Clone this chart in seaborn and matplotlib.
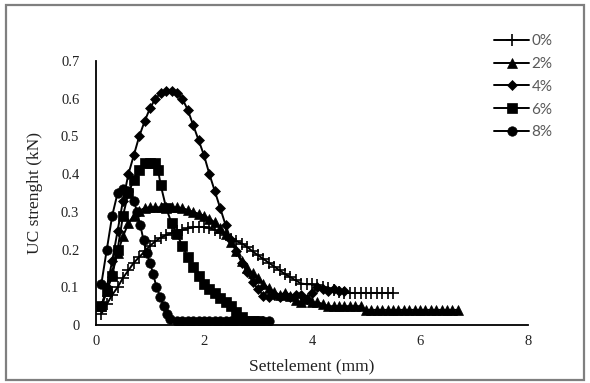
import matplotlib
matplotlib.use("Agg")
import matplotlib.pyplot as plt
from matplotlib.patches import Rectangle
import seaborn as sns
import pandas as pd

# ---------------- data ----------------
x_0 = [0.1, 0.2, 0.3, 0.4, 0.5, 0.6, 0.7, 0.8, 0.9, 1.0,
       1.1, 1.2, 1.3, 1.4, 1.5, 1.6, 1.7, 1.8, 1.9, 2.0,
       2.1, 2.2, 2.3, 2.4, 2.5, 2.6, 2.7, 2.8, 2.9, 3.0,
       3.1, 3.2, 3.3, 3.4, 3.5, 3.6, 3.7, 3.8, 3.9, 4.0,
       4.1, 4.2, 4.3, 4.4, 4.5, 4.6, 4.7, 4.8, 4.9, 5.0,
       5.1, 5.2, 5.3, 5.4, 5.5]
y_0 = [0.03, 0.055, 0.08, 0.1, 0.125, 0.145, 0.165, 0.18, 0.195, 0.21,
       0.222, 0.232, 0.238, 0.244, 0.25, 0.252, 0.256, 0.26, 0.26, 0.26,
       0.257, 0.252, 0.245, 0.238, 0.228, 0.222, 0.216, 0.207, 0.195, 0.185,
       0.175, 0.165, 0.155, 0.145, 0.135, 0.127, 0.118, 0.11, 0.108, 0.108,
       0.105, 0.1, 0.097, 0.093, 0.088, 0.085, 0.085, 0.085, 0.085, 0.085,
       0.085, 0.085, 0.085, 0.085, 0.085]

x_2 = [0.1, 0.2, 0.3, 0.4, 0.5, 0.6, 0.7, 0.8, 0.9, 1.0,
       1.1, 1.2, 1.3, 1.4, 1.5, 1.6, 1.7, 1.8, 1.9, 2.0,
       2.1, 2.2, 2.3, 2.4, 2.5, 2.6, 2.7, 2.8, 2.9, 3.0,
       3.1, 3.2, 3.3, 3.4, 3.5, 3.6, 3.7, 3.8, 3.9, 4.0,
       4.1, 4.2, 4.3, 4.4, 4.5, 4.6, 4.7, 4.8, 4.9, 5.0,
       5.1, 5.2, 5.3, 5.4, 5.5, 5.6, 5.7, 5.8, 5.9, 6.0,
       6.1, 6.2, 6.3, 6.4, 6.5, 6.6, 6.7]
y_2 = [0.05, 0.09, 0.14, 0.19, 0.235, 0.27, 0.29, 0.303, 0.31, 0.312,
       0.312, 0.312, 0.312, 0.312, 0.312, 0.31, 0.305, 0.3, 0.295, 0.29,
       0.282, 0.272, 0.258, 0.24, 0.22, 0.195, 0.17, 0.15, 0.137, 0.125,
       0.11, 0.097, 0.088, 0.08, 0.085, 0.078, 0.065, 0.06, 0.068, 0.06,
       0.06, 0.056, 0.05, 0.05, 0.05, 0.05, 0.05, 0.05, 0.05, 0.04,
       0.04, 0.04, 0.04, 0.04, 0.04, 0.04, 0.04, 0.04, 0.04, 0.04,
       0.04, 0.04, 0.04, 0.04, 0.04, 0.04, 0.04]

x_4 = [0.1, 0.2, 0.3, 0.4, 0.5, 0.6, 0.7, 0.8, 0.9, 1.0,
       1.1, 1.2, 1.3, 1.4, 1.5, 1.6, 1.7, 1.8, 1.9, 2.0,
       2.1, 2.2, 2.3, 2.4, 2.5, 2.6, 2.7, 2.8, 2.9, 3.0,
       3.1, 3.2, 3.3, 3.4, 3.5, 3.6, 3.7, 3.8, 3.9, 4.0,
       4.1, 4.2, 4.3, 4.4, 4.5, 4.6]
y_4 = [0.05, 0.1, 0.17, 0.25, 0.33, 0.4, 0.45, 0.5, 0.54, 0.575,
       0.6, 0.615, 0.62, 0.62, 0.615, 0.6, 0.57, 0.53, 0.49, 0.45,
       0.4, 0.355, 0.31, 0.265, 0.225, 0.195, 0.165, 0.14, 0.115, 0.095,
       0.078, 0.075, 0.08, 0.075, 0.08, 0.074, 0.08, 0.08, 0.07, 0.085,
       0.1, 0.095, 0.09, 0.095, 0.09, 0.09]

x_6 = [0.1, 0.2, 0.3, 0.4, 0.5, 0.6, 0.7, 0.8, 0.9, 1.0,
       1.1, 1.15, 1.2, 1.3, 1.4, 1.5, 1.6, 1.7, 1.8, 1.9,
       2.0, 2.1, 2.2, 2.3, 2.4, 2.5, 2.6, 2.7, 2.8, 2.9, 3.0]
y_6 = [0.05, 0.09, 0.13, 0.2, 0.29, 0.35, 0.385, 0.41, 0.43, 0.43,
       0.43, 0.41, 0.37, 0.31, 0.27, 0.24, 0.21, 0.18, 0.155, 0.13,
       0.11, 0.095, 0.085, 0.072, 0.06, 0.05, 0.035, 0.02, 0.01, 0.01, 0.01]

x_8 = [0.1, 0.2, 0.3, 0.4, 0.5, 0.6, 0.7, 0.76, 0.82, 0.88,
       0.94, 1.0, 1.06, 1.12, 1.19, 1.25, 1.31, 1.37, 1.5, 1.6,
       1.7, 1.8, 1.9, 2.0, 2.1, 2.2, 2.3, 2.4, 2.5, 2.6,
       2.7, 2.8, 2.9, 3.0, 3.1, 3.2]
y_8 = [0.11, 0.2, 0.29, 0.35, 0.36, 0.355, 0.33, 0.3, 0.265, 0.225,
       0.19, 0.165, 0.135, 0.1, 0.075, 0.05, 0.03, 0.015, 0.01, 0.01,
       0.01, 0.01, 0.01, 0.01, 0.01, 0.01, 0.01, 0.01, 0.01, 0.01,
       0.01, 0.01, 0.01, 0.01, 0.01, 0.01]

series_labels = ["0%", "2%", "4%", "6%", "8%"]
x_ticks = [0, 2, 4, 6, 8]
y_ticks = [0, 0.1, 0.2, 0.3, 0.4, 0.5, 0.6, 0.7]
y_tick_labels = ["0", "0.1", "0.2", "0.3", "0.4", "0.5", "0.6", "0.7"]
x_label = "Settelement (mm)"
y_label = "UC strenght (kN)"

# ---------------- plot ----------------
sns.set_style("white")
plt.rcParams["font.family"] = ["Liberation Serif", "DejaVu Serif"]

fig = plt.figure(figsize=(5.9, 3.83), dpi=100)
ax = fig.add_axes([96 / 590, 58 / 383, 432 / 590, 264 / 383])

styles = [
    dict(marker="+", markersize=8, markeredgewidth=1.2),
    dict(marker="^", markersize=6.5, markeredgewidth=0.5),
    dict(marker="D", markersize=5.0, markeredgewidth=0.5),
    dict(marker="s", markersize=6.8, markeredgewidth=0.5),
    dict(marker="o", markersize=6.8, markeredgewidth=0.5),
]
all_x = [x_0, x_2, x_4, x_6, x_8]
all_y = [y_0, y_2, y_4, y_6, y_8]

for xs, ys, lab, st in zip(all_x, all_y, series_labels, styles):
    df = pd.DataFrame({"x": xs, "y": ys})
    sns.lineplot(data=df, x="x", y="y", ax=ax, color="black", linewidth=1.4,
                 sort=False, estimator=None, label=lab,
                 markeredgecolor="black", markerfacecolor="black", **st)

ax.set_xlim(0, 8)
ax.set_ylim(0, 0.7)
ax.set_xticks(x_ticks)
ax.set_xticklabels([str(t) for t in x_ticks])
ax.set_yticks(y_ticks)
ax.set_yticklabels(y_tick_labels)

for side in ["top", "right"]:
    ax.spines[side].set_visible(False)
for side in ["left", "bottom"]:
    ax.spines[side].set_color("black")
    ax.spines[side].set_linewidth(1.3)

ax.tick_params(axis="x", direction="inout", length=7, width=1.3, colors="black",
               labelsize=10.5, pad=4, labelcolor="#222222")
ax.tick_params(axis="y", length=0, labelsize=10.5, pad=12, labelcolor="#222222")
ax.set_xlabel(x_label, fontsize=12.5, labelpad=7, color="#222222")
ax.set_ylabel(y_label, fontsize=12.5, labelpad=13, color="#222222")

handles, labels = ax.get_legend_handles_labels()
leg = ax.legend(handles, labels, loc="upper left",
                bbox_to_anchor=(494 / 590, 1 - 34 / 383),
                bbox_transform=fig.transFigure, frameon=False,
                borderpad=0, borderaxespad=0, handlelength=2.3,
                handletextpad=0.15, labelspacing=0.58,
                prop={"family": "Lato", "size": 11})
for t in leg.get_texts():
    t.set_color("#595959")

fig.patches.append(Rectangle((6 / 590, 3 / 383), 578 / 590, 375 / 383,
                             transform=fig.transFigure, fill=False,
                             edgecolor="#7f7f7f", linewidth=1.6))

fig.savefig("out.png", dpi=100)
